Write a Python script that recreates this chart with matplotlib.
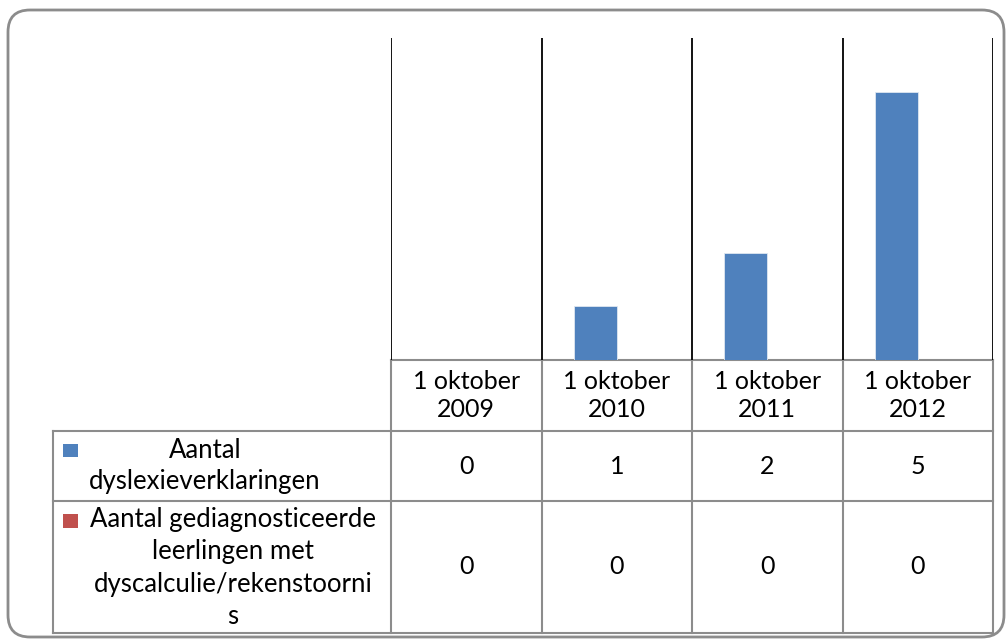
import matplotlib
matplotlib.use("Agg")
import matplotlib.pyplot as plt
from matplotlib.patches import FancyBboxPatch, Rectangle

categories = ["1 oktober\n2009", "1 oktober\n2010", "1 oktober\n2011", "1 oktober\n2012"]
series_names = ["Aantal\ndyslexieverklaringen",
                "Aantal gediagnosticeerde\nleerlingen met\ndyscalculie/rekenstoorni\ns"]
dyslexie = [0, 1, 2, 5]
dyscalculie = [0, 0, 0, 0]
colors = ["#4F81BD", "#C0504D"]

plt.rcParams['font.family'] = ['Lato', 'DejaVu Sans']
FS = 18
LS = 1.25

W, H = 1008, 640
fig = plt.figure(figsize=(W/100, H/100), dpi=100)

# overlay axes in pixel coordinates
ov = fig.add_axes([0, 0, 1, 1])
ov.set_xlim(0, W); ov.set_ylim(H, 0); ov.axis('off')
ov.add_patch(FancyBboxPatch((8, 10), 996, 627, boxstyle="round,pad=0,rounding_size=22",
                            fc="white", ec="#8c8c8c", lw=2))

# plot area
L, R, T, B = 391, 993, 38, 360
ax = fig.add_axes([L/W, 1-B/H, (R-L)/W, (B-T)/H])
ax.set_xlim(0, len(categories)); ax.set_ylim(0, 6)
ax.patch.set_alpha(0)
for s in ax.spines.values():
    s.set_visible(False)
ax.set_xticks([]); ax.set_yticks([])
for i in range(len(categories)+1):
    ax.axvline(i, color="black", lw=1.3)
bw = 43/150.5
x = [i + 0.5 for i in range(len(categories))]
ax.bar([xi - bw/2 for xi in x], dyslexie, width=bw, color=colors[0], edgecolor="#dfe7f1", lw=0.6)
ax.bar([xi + bw/2 for xi in x], dyscalculie, width=bw, color=colors[1])

# table
gc = "#8c8c8c"
cw = (R-L)/len(categories)
rows_y = [360, 431, 501, 633]
tl = 53
ov.plot([L, R], [rows_y[0], rows_y[0]], color=gc, lw=1.5)
for y in rows_y[1:]:
    ov.plot([tl, R], [y, y], color=gc, lw=1.5)
ov.plot([tl, tl], [rows_y[1], rows_y[3]], color=gc, lw=1.5)
for i in range(len(categories)+1):
    ov.plot([L+i*cw, L+i*cw], [rows_y[0], rows_y[3]], color=gc, lw=1.5)

for i, c in enumerate(categories):
    ov.text(L+(i+0.5)*cw, (rows_y[0]+rows_y[1])/2, c, ha="center", va="center",
            fontsize=FS, linespacing=LS)
    ov.text(L+(i+0.5)*cw, (rows_y[1]+rows_y[2])/2, str(dyslexie[i]), ha="center", va="center", fontsize=FS)
    ov.text(L+(i+0.5)*cw, (rows_y[2]+rows_y[3])/2, str(dyscalculie[i]), ha="center", va="center", fontsize=FS)

ov.add_patch(Rectangle((63, 444), 15, 13, fc=colors[0], ec="none"))
ov.add_patch(Rectangle((63, 514), 15, 14, fc=colors[1], ec="none"))
ov.text(205, (rows_y[1]+rows_y[2])/2, series_names[0], ha="center", va="center",
        fontsize=FS + 0.5, linespacing=1.3)
ov.text(233, (rows_y[2]+rows_y[3])/2 + 1, series_names[1], ha="center", va="center",
        fontsize=FS + 0.5, linespacing=1.38)

fig.savefig("out.png", dpi=100)
